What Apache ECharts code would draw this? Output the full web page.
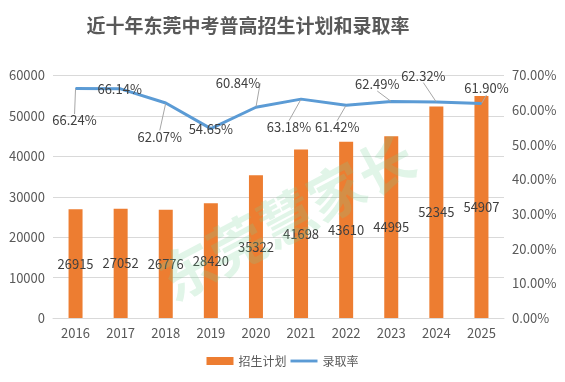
<!DOCTYPE html>
<html><head><meta charset="utf-8">
<script src="https://cdn.jsdelivr.net/npm/echarts@6/dist/echarts.min.js"></script>
<style>html,body{margin:0;padding:0;background:#fff}#c{width:565px;height:382px}</style>
</head><body><div id="c"></div>
<script>
const years = ['2016','2017','2018','2019','2020','2021','2022','2023','2024','2025'];
const plan = [26915,27052,26776,28420,35322,41698,43610,44995,52345,54907];
const rate = [66.24,66.14,62.07,54.65,60.84,63.18,61.42,62.49,62.32,61.90];
const leftTicks = [0,10000,20000,30000,40000,50000,60000];
const rightTicks = [0,10,20,30,40,50,60,70];
// label offsets (styling only)
const rateLabelShift = [[-1,32],[-1,0],[-6,34],[0,0],[-18,-24],[-12,28],[-9,22],[-14,-17],[-13,-26],[5,-15]];

const chart = echarts.init(document.getElementById('c'), null, {renderer:'canvas'});
const font = '"Microsoft YaHei","Noto Sans CJK SC",sans-serif';
const rateData = rate.map((v,i)=>{
  const s = rateLabelShift[i];
  const item = {value:v};
  if (Math.abs(s[0]) + Math.abs(s[1]) < 3) item.labelLine = {show:false};
  return item;
});
chart.setOption({
  animation:false,
  textStyle:{fontFamily:font},
  title:{text:'近十年东莞中考普高招生计划和录取率', left:243, top:11, textAlign:'center',
    textStyle:{fontSize:19, fontWeight:'bold', color:'#595959', fontFamily:font}},
  grid:{left:53, right:61, top:75.5, bottom:64, containLabel:false},
  legend:{bottom:10, left:'center', itemWidth:27, itemHeight:8, itemGap:4,
    textStyle:{fontSize:12, color:'#595959'},
    data:[{name:'招生计划', icon:'rect'},{name:'录取率', icon:'path://M0,0L30,0L30,3.2L0,3.2Z'}]},
  xAxis:{type:'category', data:years, axisTick:{show:false},
    axisLine:{lineStyle:{color:'#d9d9d9'}},
    axisLabel:{fontSize:13, color:'#595959', margin:9}},
  yAxis:[
    {type:'value', min:leftTicks[0], max:leftTicks[leftTicks.length-1], interval:10000,
     axisLabel:{fontSize:13, color:'#595959', margin:8, formatter:v=>String(v)},
     splitLine:{lineStyle:{color:'#d9d9d9'}}, axisLine:{show:false}},
    {type:'value', min:rightTicks[0], max:rightTicks[rightTicks.length-1], interval:10,
     axisLabel:{fontSize:13, color:'#595959', margin:8, formatter:v=>v.toFixed(2)+'%'},
     splitLine:{show:false}, axisLine:{show:false}}
  ],
  series:[
    {name:'招生计划', type:'bar', data:plan, barWidth:14, itemStyle:{color:'#ED7D31'},
     label:{show:true, position:'inside', color:'#404040', fontSize:13}},
    {name:'录取率', type:'line', yAxisIndex:1, data:rateData, showSymbol:true, symbol:'circle', symbolSize:1,
     lineStyle:{color:'#5B9BD5', width:3}, itemStyle:{color:'#5B9BD5'},
     label:{show:true, position:'inside', color:'#404040', fontSize:13,
       formatter:p=>p.value.toFixed(2)+'%'},
     labelLine:{show:true, lineStyle:{color:'#a6a6a6', width:1}},
     labelLayout:p=>({dx:rateLabelShift[p.dataIndex][0], dy:rateLabelShift[p.dataIndex][1]})}
  ],
  graphic:[{type:'text', left:150, top:128, rotation:Math.PI*28/180, z:100,
    style:{text:'东莞慧家长', fontSize:56, fontWeight:'bold', fontFamily:font,
      fill:'rgba(120,210,150,0.22)'}}]
});
</script></body></html>
